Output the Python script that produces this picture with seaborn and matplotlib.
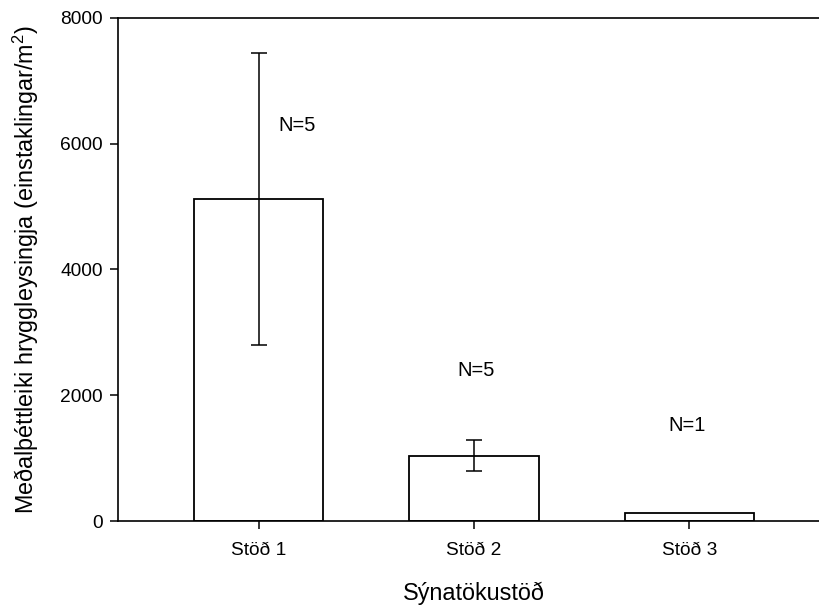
import matplotlib
matplotlib.use("Agg")
import matplotlib.pyplot as plt
import seaborn as sns
import pandas as pd

stations = ["Stöð 1", "Stöð 2", "Stöð 3"]
mean_density = [5120, 1045, 132]
std_error = [2320, 242, 0]
n_samples = [5, 5, 1]
n_label_y = [6280, 2400, 1520]
n_label_x = [0.18, 0.01, -0.01]

sns.set_style("ticks")
plt.rcParams["font.family"] = ["Liberation Sans", "DejaVu Sans"]
plt.rcParams["mathtext.default"] = "regular"
plt.rcParams["text.color"] = "black"
plt.rcParams["axes.labelcolor"] = "black"

df = pd.DataFrame({"stod": stations, "density": mean_density})

fig = plt.figure(figsize=(8.2, 6.08), dpi=100)
ax = fig.add_axes([0.1439, 0.1426, 0.8561, 0.8283])

sns.barplot(data=df, x="stod", y="density", color="white", edgecolor="black",
            linewidth=1.3, width=0.6, errorbar=None, ax=ax, saturation=1)

# error bars only where there is more than one sample
for i, (m, e, n) in enumerate(zip(mean_density, std_error, n_samples)):
    if n > 1:
        ax.errorbar(i, m, yerr=e, fmt="none", ecolor="black", elinewidth=1.1,
                    capsize=5.8, capthick=1.1, zorder=5)
    ax.text(i + n_label_x[i], n_label_y[i], f"N={n}", ha="center", va="center",
            fontsize=14.5, color="black")

ax.set_xlim(-0.653, 2.607)
ax.set_ylim(0, 8000)
ax.set_yticks([0, 2000, 4000, 6000, 8000])

for side in ["left", "top", "bottom"]:
    ax.spines[side].set_visible(True)
    ax.spines[side].set_linewidth(1.2)
    ax.spines[side].set_color("black")
ax.spines["right"].set_visible(False)

ax.tick_params(axis="both", direction="out", length=6, width=1.1, labelsize=13.8,
               colors="black", pad=5)
ax.tick_params(axis="x", pad=9)

ax.set_xlabel("Sýnatökustöð", fontsize=16.8, labelpad=0, color="black")
ax.set_ylabel("Meðalþéttleiki hryggleysingja (einstaklingar/m$^2$)", fontsize=16.8,
              color="black")
ax.xaxis.set_label_coords((474 - 118) / 702, -(582 - 521.3) / 503.6)
ax.yaxis.set_label_coords(-(118 - 41) / 702, 0.5)

fig.savefig("out.png", dpi=100, facecolor="white")
